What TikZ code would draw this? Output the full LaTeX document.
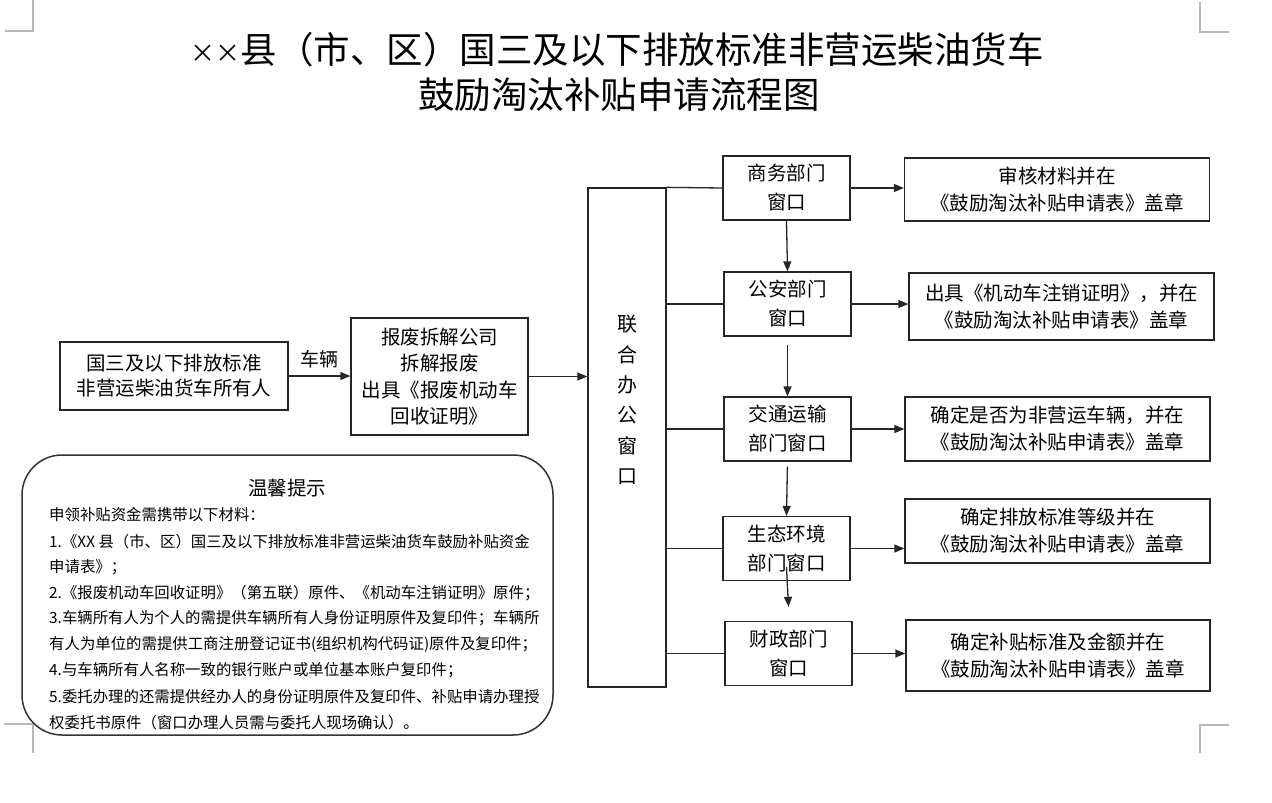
\documentclass[tikz,border=0pt]{standalone}
\usepackage{fontspec}
\setmainfont{Noto Sans CJK SC}
\usetikzlibrary{arrows.meta,calc}
\begin{document}
\begin{tikzpicture}[x=1pt,y=-1pt,
  ln/.style={line width=1.3pt, draw=black!85},
  box/.style={draw=black!85, line width=1.3pt, align=center, inner sep=0pt, font=\fontsize{19.5}{27}\selectfont},
  dept/.style={box, minimum width=127pt, minimum height=64pt, font=\fontsize{19.5}{29}\selectfont},
  res/.style={box, minimum width=305pt, minimum height=64pt},
  arr/.style={ln, -{Triangle[length=10pt,width=8pt]}},
  cornermark/.style={draw=black!28, line width=1.3pt},
  tipline/.style={anchor=west, inner sep=0pt, font=\fontsize{15.4}{15.4}\selectfont}
]
\useasboundingbox (0,0) rectangle (1272,803);
\fill[white] (0,0) rectangle (1272,803);

% page corner marks
\draw[cornermark] (5,31) -- (33,31) -- (33,0);
\draw[cornermark] (1200,2) -- (1200,32) -- (1229,32);
\draw[cornermark] (4,724) -- (33,724) -- (33,753);
\draw[cornermark] (1229,725) -- (1200,725) -- (1200,753);

% title
\node[font=\fontsize{36.5}{44}\selectfont, inner sep=0pt] (title1) at (617,50) {{\fontsize{25}{25}\selectfont\raisebox{1pt}{××}}县（市、区）国三及以下排放标准非营运柴油货车};
\node[font=\fontsize{36.5}{44}\selectfont, inner sep=0pt] (title2) at (619,95) {鼓励淘汰补贴申请流程图};

% left part
\node[box, minimum width=228pt, minimum height=68pt, font=\fontsize{19.5}{25}\selectfont] (owner) at (174,376) {国三及以下排放标准\\非营运柴油货车所有人};
\node[box, minimum width=177pt, minimum height=117pt, font=\fontsize{19.5}{26.5}\selectfont] (scrap) at (439.5,376.5) {报废拆解公司\\拆解报废\\出具《报废机动车\\回收证明》};

% joint office
\node[ln, draw, minimum width=78pt, minimum height=499pt, inner sep=0pt] (joint) at (627,437.5) {};
\node[font=\fontsize{20}{30.4}\selectfont, align=center, inner sep=0pt] (jointtxt) at (627,400) {联\\合\\办\\公\\窗\\口};

% departments
\node[dept] (sw) at (786.5,188) {商务部门\\窗口};
\node[dept] (ga) at (787.5,304) {公安部门\\窗口};
\node[dept] (jt) at (787.5,429) {交通运输\\部门窗口};
\node[dept] (st) at (786.5,548.5) {生态环境\\部门窗口};
\node[dept] (cz) at (788.5,653.5) {财政部门\\窗口};

% results
\node[res, minimum height=63pt] (r1) at (1057,189.5) {审核材料并在\\《鼓励淘汰补贴申请表》盖章};
\node[res, minimum height=67pt] (r2) at (1061.5,306.5) {出具《机动车注销证明》，并在\\《鼓励淘汰补贴申请表》盖章};
\node[res] (r3) at (1057.5,429) {确定是否为非营运车辆，并在\\《鼓励淘汰补贴申请表》盖章};
\node[res] (r4) at (1057.5,531) {确定排放标准等级并在\\《鼓励淘汰补贴申请表》盖章};
\node[res, minimum height=71pt, minimum width=304pt] (r5) at (1058,655.5) {确定补贴标准及金额并在\\《鼓励淘汰补贴申请表》盖章};

% connectors
\draw[arr] (owner.east) -- (owner.east -| scrap.west) node[midway, above, yshift=5pt, font=\fontsize{19}{19}\selectfont, inner sep=2pt] (carlabel) {车辆};
\draw[arr] (scrap.east) -- (scrap.east -| joint.west);
\draw[ln] (joint.north east) -- (sw.west);
\draw[ln] (joint.east |- ga.west) -- (ga.west);
\draw[ln] (joint.east |- jt.west) -- (jt.west);
\draw[ln] (joint.east |- st.west) -- (st.west);
\draw[ln] (joint.east |- cz.west) -- (cz.west);

\draw[arr] (sw.south) -- (ga.north);
\draw[arr, shorten <=8pt] (ga.south) -- (jt.north);
\draw[arr, shorten <=5pt] (jt.south) -- (st.north);
\draw[arr] ([yshift=14pt]st.south) -- ([yshift=14pt]cz.north);

\draw[arr] (sw.east) -- (sw.east -| r1.west);
\draw[arr] (ga.east) -- (ga.east -| r2.west);
\draw[arr] (jt.east) -- (jt.east -| r3.west);
\draw[arr] (st.east) -- (st.east -| r4.west);
\draw[arr] (cz.east) -- (cz.east -| r5.west);

% tips box
\node[draw=black!80, line width=1.5pt, fill=white, rounded corners=40pt, minimum width=531pt, minimum height=280pt, inner sep=0pt] (tips) at (287.5,595) {};
\node[font=\fontsize{19.5}{19.5}\selectfont, inner sep=0pt] (tipstitle) at (287,488) {温馨提示};
\node[tipline] (t1) at (49,515) {申领补贴资金需携带以下材料：};
\node[tipline] (t2) at (49,542) {1.《XX 县（市、区）国三及以下排放标准非营运柴油货车鼓励补贴资金};
\node[tipline] (t3) at (49,567) {申请表》；};
\node[tipline] (t4) at (49,593) {2.《报废机动车回收证明》（第五联）原件、《机动车注销证明》原件；};
\node[tipline] (t5) at (49,618) {3.车辆所有人为个人的需提供车辆所有人身份证明原件及复印件；车辆所};
\node[tipline] (t6) at (49,644) {有人为单位的需提供工商注册登记证书(组织机构代码证)原件及复印件；};
\node[tipline] (t7) at (49,670) {4.与车辆所有人名称一致的银行账户或单位基本账户复印件；};
\node[tipline] (t8) at (49,697) {5.委托办理的还需提供经办人的身份证明原件及复印件、补贴申请办理授};
\node[tipline] (t9) at (49,723) {权委托书原件（窗口办理人员需与委托人现场确认）。};
\end{tikzpicture}
\end{document}
